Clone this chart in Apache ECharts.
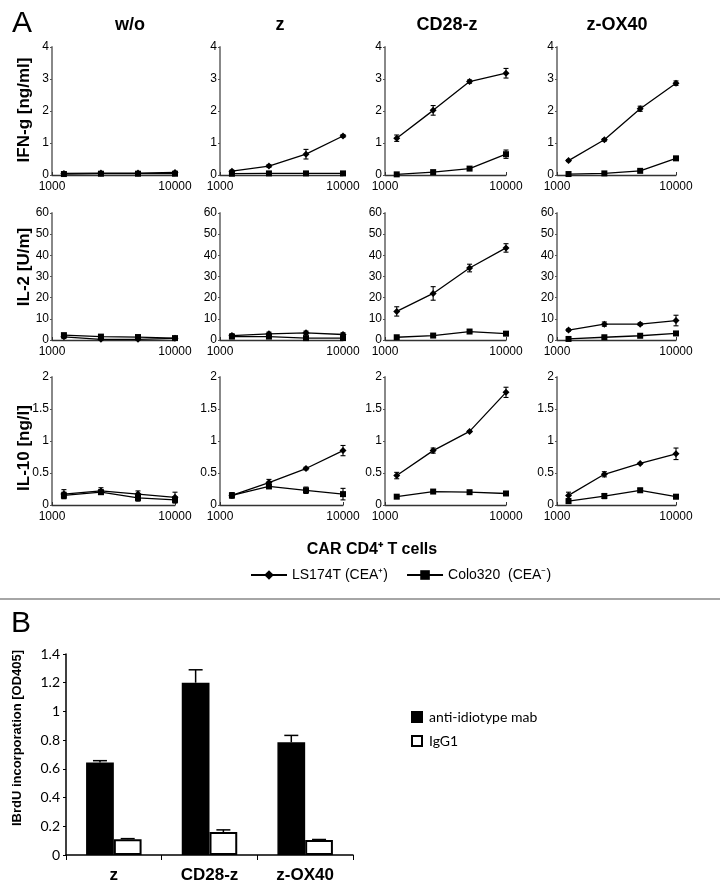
<!DOCTYPE html>
<html><head><meta charset="utf-8">
<script src="https://cdn.jsdelivr.net/npm/echarts@6/dist/echarts.min.js"></script>
<style>html,body{margin:0;padding:0;background:#fff}#c{width:720px;height:894px}</style>
</head><body><div id="c"></div>
<script>
// ---------- DATA ----------
const cellCounts = [1250, 2500, 5000, 10000];
const constructs = ['w/o', 'z', 'CD28-z', 'z-OX40'];
const seriesNames = ['LS174T (CEA\u207A)', 'Colo320  (CEA\u207B)'];
const rowNames = ['IFN-g [ng/ml]', 'IL-2 [U/m]', 'IL-10 [ng/l]'];
const rowMax = [4, 60, 2];
const rowInterval = [1, 10, 0.5];

// IFN-g [ng/ml]
const ifnLS      = [[0.05,0.06,0.06,0.08],[0.12,0.28,0.65,1.22],[1.15,2.02,2.92,3.18],[0.45,1.10,2.07,2.87]];
const ifnLSErr   = [[0.02,0.02,0.02,0.03],[0.03,0.04,0.15,0.04],[0.10,0.15,0.05,0.15],[0.03,0.04,0.08,0.07]];
const ifnColo    = [[0.03,0.04,0.04,0.04],[0.04,0.05,0.05,0.05],[0.02,0.09,0.20,0.65],[0.03,0.05,0.13,0.52]];
const ifnColoErr = [[0.01,0.01,0.01,0.01],[0.01,0.01,0.01,0.01],[0.01,0.02,0.03,0.13],[0.01,0.01,0.02,0.06]];
// IL-2 [U/ml]
const il2LS      = [[1.5,0.3,0.3,0.8],[2.1,2.9,3.4,2.6],[13.5,22,34,43.5],[4.7,7.5,7.5,9.2]];
const il2LSErr   = [[0.8,0.5,0.5,0.5],[0.8,0.8,0.8,0.8],[2.2,3.2,1.8,2.0],[0.5,1.0,0.6,2.5]];
const il2Colo    = [[2.3,1.6,1.4,0.9],[1.6,1.6,0.9,0.9],[1.3,2.1,4.0,3.0],[0.5,1.3,2.0,3.1]];
const il2ColoErr = [[0.5,0.5,0.5,0.4],[0.8,0.6,0.6,0.6],[0.3,0.4,0.4,0.4],[0.3,0.4,0.4,0.4]];
// IL-10 [ng/l]
const il10LS      = [[0.17,0.22,0.17,0.12],[0.15,0.35,0.57,0.85],[0.46,0.85,1.15,1.76],[0.15,0.48,0.65,0.80]];
const il10LSErr   = [[0.07,0.05,0.05,0.08],[0.04,0.05,0.02,0.08],[0.05,0.04,0.01,0.08],[0.05,0.04,0.01,0.09]];
const il10Colo    = [[0.15,0.20,0.11,0.08],[0.15,0.29,0.23,0.17],[0.13,0.21,0.20,0.18],[0.06,0.14,0.23,0.13]];
const il10ColoErr = [[0.05,0.03,0.05,0.05],[0.04,0.03,0.05,0.09],[0.02,0.01,0.01,0.03],[0.02,0.04,0.03,0.03]];

// Panel B
const bCategories = ['z', 'CD28-z', 'z-OX40'];
const bSeriesNames = ['anti-idiotype mab', 'IgG1'];
const antiId    = [0.645, 1.20, 0.785];
const antiIdErr = [0.012, 0.09, 0.048];
const igg1      = [0.11, 0.16, 0.105];
const igg1Err   = [0.004, 0.015, 0.003];

// ---------- LAYOUT ----------
const FONT = 'Liberation Sans, Arial, sans-serif';
const colLeft = [52, 220, 385, 557];
const colWidth = [123, 123, 121, 119];
const rowTop = [47, 213, 377];
const rowHeight = [128, 127, 128];
const titleX = [130, 280, 447, 617];
const rowNameY = [110, 267, 448];

const rows = [
  [ifnLS, ifnLSErr, ifnColo, ifnColoErr],
  [il2LS, il2LSErr, il2Colo, il2ColoErr],
  [il10LS, il10LSErr, il10Colo, il10ColoErr]
];

function errRender(params, api) {
  const x = api.value(0), lo = api.value(1), hi = api.value(2);
  const p1 = api.coord([x, lo]), p2 = api.coord([x, hi]);
  const w = 2.5;
  const style = { stroke: '#000', lineWidth: 1.1 };
  return { type: 'group', children: [
    { type: 'line', shape: { x1: p1[0], y1: p1[1], x2: p2[0], y2: p2[1] }, style },
    { type: 'line', shape: { x1: p1[0] - w, y1: p1[1], x2: p1[0] + w, y2: p1[1] }, style },
    { type: 'line', shape: { x1: p2[0] - w, y1: p2[1], x2: p2[0] + w, y2: p2[1] }, style }
  ]};
}

const grid = [], xAxis = [], yAxis = [], series = [];
for (let r = 0; r < 3; r++) {
  for (let c = 0; c < 4; c++) {
    const idx = grid.length;
    grid.push({ left: colLeft[c], top: rowTop[r], width: colWidth[c], height: rowHeight[r] });
    xAxis.push({
      type: 'log', logBase: 10, min: 1000, max: 10000, gridIndex: idx,
      axisLine: { lineStyle: { color: '#333', width: 1.3 } },
      axisTick: { show: true, inside: true, length: 3, lineStyle: { color: '#333' } },
      minorTick: { show: false }, splitLine: { show: false },
      axisLabel: { fontSize: 12, color: '#000', fontFamily: FONT, margin: 6, formatter: v => String(Math.round(v)) }
    });
    yAxis.push({
      type: 'value', min: 0, max: rowMax[r], interval: rowInterval[r], gridIndex: idx,
      axisLine: { show: true, lineStyle: { color: '#888', width: 2 } },
      axisTick: { show: true, length: 2, lineStyle: { color: '#555' } },
      splitLine: { show: false },
      axisLabel: { fontSize: 12, color: '#000', fontFamily: FONT, margin: 3 }
    });
    const [ls, lsE, co, coE] = rows[r];
    series.push({
      name: seriesNames[0], type: 'line', xAxisIndex: idx, yAxisIndex: idx,
      data: cellCounts.map((x, i) => [x, ls[c][i]]),
      symbol: 'diamond', symbolSize: 7, color: '#000',
      lineStyle: { color: '#000', width: 1.3 }, itemStyle: { color: '#000' }, z: 3, animation: false
    });
    series.push({
      name: seriesNames[1], type: 'line', xAxisIndex: idx, yAxisIndex: idx,
      data: cellCounts.map((x, i) => [x, co[c][i]]),
      symbol: 'rect', symbolSize: 6, color: '#000',
      lineStyle: { color: '#000', width: 1.3 }, itemStyle: { color: '#000' }, z: 3, animation: false
    });
    series.push({
      name: 'errLS', type: 'custom', xAxisIndex: idx, yAxisIndex: idx, renderItem: errRender,
      encode: { x: 0, y: [1, 2] }, z: 4, animation: false, silent: true,
      data: cellCounts.map((x, i) => [x, Math.max(0, ls[c][i] - lsE[c][i]), ls[c][i] + lsE[c][i]])
    });
    series.push({
      name: 'errColo', type: 'custom', xAxisIndex: idx, yAxisIndex: idx, renderItem: errRender,
      encode: { x: 0, y: [1, 2] }, z: 4, animation: false, silent: true,
      data: cellCounts.map((x, i) => [x, Math.max(0, co[c][i] - coE[c][i]), co[c][i] + coE[c][i]])
    });
  }
}

// Panel B bar chart
const bIdx = grid.length;
grid.push({ left: 66, top: 654, width: 287, height: 201 });
xAxis.push({
  type: 'category', data: bCategories, gridIndex: bIdx,
  axisLine: { lineStyle: { color: '#000', width: 1.5 } },
  axisTick: { show: true, alignWithLabel: false, length: 5, lineStyle: { color: '#000' } },
  axisLabel: { fontSize: 17, fontWeight: 'bold', color: '#000', fontFamily: FONT, margin: 12 }
});
yAxis.push({
  type: 'value', min: 0, max: 1.4, interval: 0.2, gridIndex: bIdx,
  axisLine: { show: true, lineStyle: { color: '#000', width: 1.5 } },
  axisTick: { show: true, length: 3, lineStyle: { color: '#000' } },
  splitLine: { show: false },
  axisLabel: { fontSize: 14, color: '#000', fontFamily: 'Lato, sans-serif', margin: 6 }
});
const GAP = 0.42;
series.push({
  name: bSeriesNames[0], type: 'bar', xAxisIndex: bIdx, yAxisIndex: bIdx, data: antiId,
  barGap: '0%', barCategoryGap: (GAP * 100) + '%',
  itemStyle: { color: '#000', borderColor: '#000', borderWidth: 1.5 }, animation: false
});
series.push({
  name: bSeriesNames[1], type: 'bar', xAxisIndex: bIdx, yAxisIndex: bIdx, data: igg1,
  barGap: '0%', barCategoryGap: (GAP * 100) + '%',
  itemStyle: { color: '#fff', borderColor: '#000', borderWidth: 2 }, animation: false
});
function barErrRender(params, api) {
  const ci = api.value(0), v = api.value(1), hi = api.value(2), side = api.value(3);
  const base = api.coord([ci, v]);
  const top = api.coord([ci, hi]);
  const catW = api.size([1, 0])[0];
  const barW = catW * (1 - GAP) / 2;
  const x = base[0] + side * barW / 2;
  const w = 7;
  const style = { stroke: '#000', lineWidth: 1.5 };
  return { type: 'group', children: [
    { type: 'line', shape: { x1: x, y1: base[1], x2: x, y2: top[1] }, style },
    { type: 'line', shape: { x1: x - w, y1: top[1], x2: x + w, y2: top[1] }, style }
  ]};
}
series.push({
  name: 'errB1', type: 'custom', xAxisIndex: bIdx, yAxisIndex: bIdx, renderItem: barErrRender,
  encode: { x: 0, y: [1, 2] }, z: 4, animation: false, silent: true,
  data: antiId.map((v, i) => [i, v, v + antiIdErr[i], -1])
});
series.push({
  name: 'errB2', type: 'custom', xAxisIndex: bIdx, yAxisIndex: bIdx, renderItem: barErrRender,
  encode: { x: 0, y: [1, 2] }, z: 4, animation: false, silent: true,
  data: igg1.map((v, i) => [i, v, v + igg1Err[i], 1])
});

// ---------- TEXT / DECORATION ----------
const graphic = [
  { type: 'text', x: 22, y: 24, style: { text: 'A', font: '30px ' + FONT, fill: '#000', textAlign: 'center', textVerticalAlign: 'middle' } },
  { type: 'text', x: 21, y: 624, style: { text: 'B', font: '30px ' + FONT, fill: '#000', textAlign: 'center', textVerticalAlign: 'middle' } },
  { type: 'text', x: 372, y: 550, style: { text: 'CAR CD4\u207A T cells', font: 'bold 16px ' + FONT, fill: '#000', textAlign: 'center', textVerticalAlign: 'middle' } },
  { type: 'line', shape: { x1: 0, y1: 599, x2: 720, y2: 599 }, style: { stroke: '#888', lineWidth: 1.5 } },
  { type: 'text', x: 17, y: 738, rotation: Math.PI / 2, style: { text: 'IBrdU incorporation [OD405]', font: 'bold 13px ' + FONT, fill: '#000', textAlign: 'center', textVerticalAlign: 'middle' } }
];
constructs.forEach((t, c) => graphic.push({ type: 'text', x: titleX[c], y: 25, style: { text: t, font: 'bold 18px ' + FONT, fill: '#000', textAlign: 'center', textVerticalAlign: 'middle' } }));
rowNames.forEach((t, r) => graphic.push({ type: 'text', x: 24, y: rowNameY[r], rotation: Math.PI / 2, style: { text: t, font: 'bold 17px ' + FONT, fill: '#000', textAlign: 'center', textVerticalAlign: 'middle' } }));

const option = {
  backgroundColor: '#fff',
  animation: false,
  grid, xAxis, yAxis, series, graphic,
  legend: [
    { data: seriesNames, left: 245, top: 563, itemWidth: 36, itemHeight: 12, itemGap: 18,
      textStyle: { fontSize: 14, fontFamily: FONT, color: '#000' }, selectedMode: false },
    { data: bSeriesNames, orient: 'vertical', left: 406, top: 705, itemWidth: 10, itemHeight: 10, itemGap: 10,
      icon: 'rect', textStyle: { fontSize: 14, fontFamily: 'Lato, sans-serif', color: '#000', padding: [10, 0, 0, 2] }, selectedMode: false }
  ]
};
const chart = echarts.init(document.getElementById('c'), null, { renderer: 'canvas' });
chart.setOption(option);
</script></body></html>
